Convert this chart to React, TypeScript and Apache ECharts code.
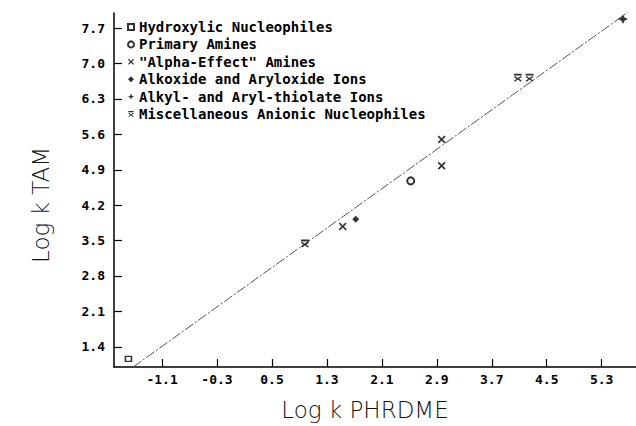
import React, { useEffect, useRef } from "react";
import * as echarts from "echarts";

const xTicks = [-1.1, -0.3, 0.5, 1.3, 2.1, 2.9, 3.7, 4.5, 5.3];
const yTicks = [1.4, 2.1, 2.8, 3.5, 4.2, 4.9, 5.6, 6.3, 7.0, 7.7];

const seriesNames = [
  "Hydroxylic Nucleophiles",
  "Primary Amines",
  "\"Alpha-Effect\" Amines",
  "Alkoxide and Aryloxide Ions",
  "Alkyl- and Aryl-thiolate Ions",
  "Miscellaneous Anionic Nucleophiles",
];

const hydroxylic = [[-1.59, 1.16]];
const primaryAmines = [[2.52, 4.68]];
const alphaEffect = [[1.53, 3.78], [2.97, 5.5], [2.97, 4.98]];
const alkoxide = [[1.72, 3.92]];
const thiolate = [[5.61, 7.88]];
const misc = [[0.98, 3.44], [4.08, 6.72], [4.25, 6.72]];

const fitLine = [[-1.52, 1.0], [5.8, 8.13]];

const X_PATH =
  "path://M0,1.5 L1.5,0 L5,3.5 L8.5,0 L10,1.5 L6.5,5 L10,8.5 L8.5,10 L5,6.5 L1.5,10 L0,8.5 L3.5,5 Z";
const XBAR_PATH =
  "path://M0,0 H10 V2.5 H0 Z M0,4.5 L1.5,3 L5,6 L8.5,3 L10,4.5 L6.5,7 L10,9.5 L8.5,11 L5,8 L1.5,11 L0,9.5 L3.5,7 Z";
const STAR_PATH =
  "path://M5,0 L6.6,3.4 L10,5 L6.6,6.6 L5,10 L3.4,6.6 L0,5 L3.4,3.4 Z";

export default function App() {
  const ref = useRef<HTMLDivElement>(null);
  useEffect(() => {
    if (!ref.current) return;
    const chart = echarts.init(ref.current, null, { renderer: "svg" });
    const tickFont = {
      fontFamily: "DejaVu Sans Mono",
      fontWeight: "bold" as const,
      fontSize: 13,
      color: "#000",
    };
    chart.setOption({
      animation: false,
      backgroundColor: "#fff",
      grid: { left: 114, right: 0, top: 13, bottom: 59 },
      xAxis: {
        type: "value",
        min: -1.8,
        max: 5.8,
        axisLine: { show: true, onZero: false, lineStyle: { color: "#000", width: 1.5 } },
        axisTick: {
          show: true,
          inside: true,
          length: 8,
          customValues: xTicks,
          lineStyle: { color: "#000", width: 1.2 },
        },
        axisLabel: {
          customValues: xTicks,
          formatter: (v: number) => v.toFixed(1),
          margin: 6,
          ...tickFont,
        },
        splitLine: { show: false },
      },
      yAxis: {
        type: "value",
        min: 1.0,
        max: 8.0,
        axisLine: { show: true, onZero: false, lineStyle: { color: "#000", width: 1.5 } },
        axisTick: {
          show: true,
          inside: true,
          length: 8,
          customValues: yTicks,
          lineStyle: { color: "#000", width: 1.2 },
        },
        axisLabel: {
          customValues: yTicks,
          formatter: (v: number) => v.toFixed(1),
          margin: 9,
          ...tickFont,
        },
        splitLine: { show: false },
      },
      legend: {
        data: seriesNames,
        orient: "vertical",
        left: 127,
        top: 20,
        itemWidth: 6,
        itemHeight: 6,
        itemGap: 3.4,
        padding: 0,
        selectedMode: false,
        textStyle: {
          fontFamily: "DejaVu Sans Mono",
          fontWeight: "bold",
          fontSize: 14,
          color: "#000",
          lineHeight: 14,
        },
      },
      graphic: [
        {
          type: "text",
          x: 41,
          y: 205,
          rotation: Math.PI / 2,
          style: {
            text: "Log k TAM",
            font: "200 23px 'DejaVu Sans'",
            fill: "#111",
            textAlign: "center",
            textVerticalAlign: "middle",
          },
        },
        {
          type: "text",
          x: 365,
          y: 410,
          style: {
            text: "Log k PHRDME",
            font: "200 23px 'DejaVu Sans'",
            fill: "#111",
            textAlign: "center",
            textVerticalAlign: "middle",
          },
        },
      ],
      series: [
        {
          type: "line",
          data: fitLine,
          symbol: "none",
          silent: true,
          lineStyle: { color: "#555", width: 1, type: [10, 2, 2, 2] },
          z: 1,
        },
        {
          name: seriesNames[0],
          type: "scatter",
          data: hydroxylic,
          symbol: "rect",
          symbolSize: [6, 5],
          itemStyle: { color: "#fff", borderColor: "#000", borderWidth: 1.5 },
        },
        {
          name: seriesNames[1],
          type: "scatter",
          data: primaryAmines,
          symbol: "circle",
          symbolSize: 7,
          itemStyle: { color: "#fff", borderColor: "#000", borderWidth: 2 },
        },
        {
          name: seriesNames[2],
          type: "scatter",
          data: alphaEffect,
          symbol: X_PATH,
          symbolSize: 8,
          itemStyle: { color: "#000" },
        },
        {
          name: seriesNames[3],
          type: "scatter",
          data: alkoxide,
          symbol: "diamond",
          symbolSize: 7,
          itemStyle: { color: "#000" },
        },
        {
          name: seriesNames[4],
          type: "scatter",
          data: thiolate,
          symbol: STAR_PATH,
          symbolSize: 10,
          itemStyle: { color: "#000" },
        },
        {
          name: seriesNames[5],
          type: "scatter",
          data: misc,
          symbol: XBAR_PATH,
          symbolSize: [8, 8],
          itemStyle: { color: "#000" },
        },
      ],
    });
    return () => chart.dispose();
  }, []);
  return (
    <div
      ref={ref}
      style={{ position: "fixed", left: 0, top: 0, width: 636, height: 426 }}
    />
  );
}
